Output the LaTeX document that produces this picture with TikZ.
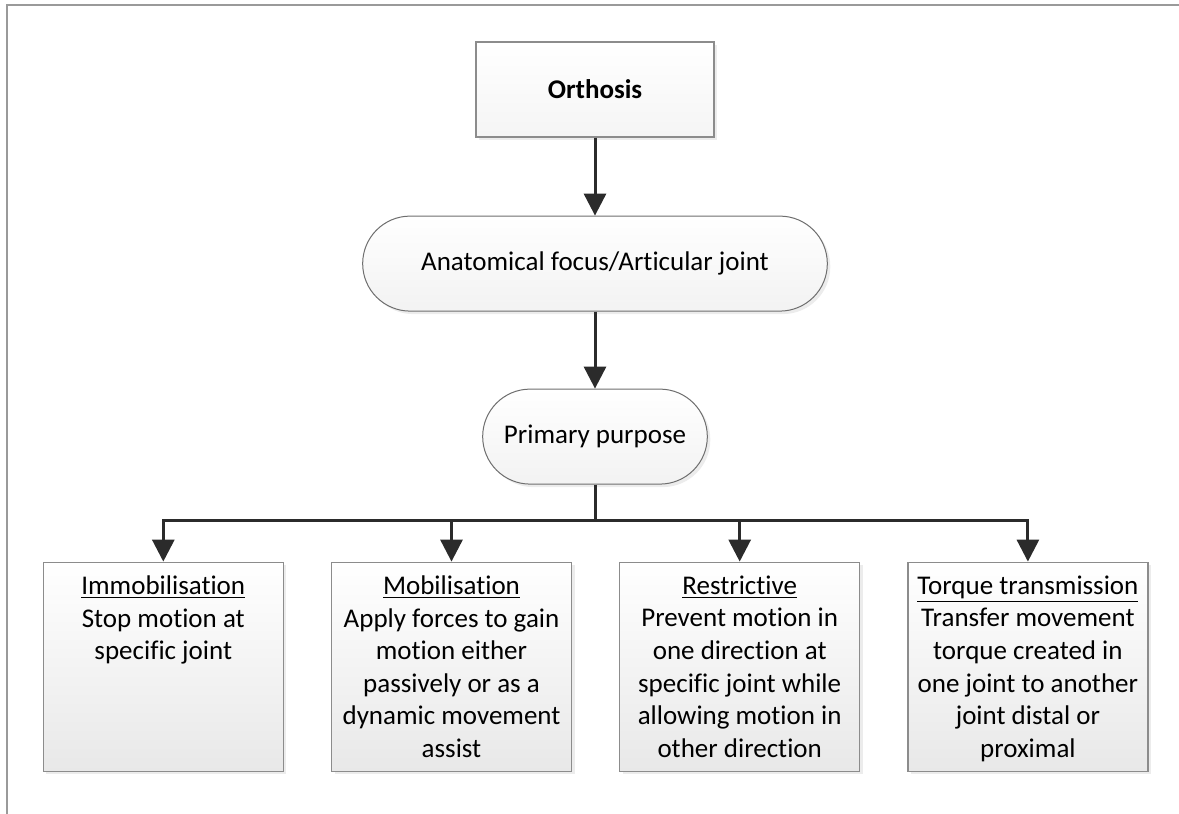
\documentclass[tikz,border=0pt]{standalone}
\usepackage{fontspec}
\setmainfont[Ligatures=NoCommon]{Carlito}
\usetikzlibrary{positioning,arrows.meta,shapes.misc,shadows,calc}
\definecolor{boxgray}{HTML}{8C8C8C}
\definecolor{pillgray}{HTML}{6E6E6E}
\definecolor{linegray}{HTML}{2B2B2B}
\definecolor{framegray}{HTML}{9A9A9A}

% text of one purpose box: underlined title, then the body
\newcommand{\purposetext}[2]{\parbox[t][91pt][t]{118pt}{\centering\underline{#1}\\#2}}

\begin{document}
\begin{tikzpicture}[
    x=0.5pt, y=-0.5pt,
    font=\fontsize{13.5}{16.3}\selectfont,
    softshadow/.style={drop shadow={opacity=0.15, shadow xshift=1.5pt, shadow yshift=-1.5pt}},
    topbox/.style={rectangle, draw=boxgray, line width=0.6pt, top color=white, bottom color=gray!8, minimum width=119pt, minimum height=47.5pt, softshadow},
    pill/.style={rounded rectangle, draw=pillgray, line width=0.5pt, top color=white, bottom color=gray!10, minimum height=47.5pt, softshadow},
    purpose/.style={rectangle, draw=boxgray, line width=0.6pt, top color=white, bottom color=gray!18, minimum width=120pt, minimum height=104.5pt, inner sep=0pt, softshadow},
    arrow/.style={-{Triangle[width=11pt,length=11pt]}, line width=1.5pt, draw=linegray},
    branch/.style={line width=1.5pt, draw=linegray}
]
\useasboundingbox (0,0) rectangle (1179,814);

% Frame
\draw[framegray, line width=1pt] (7,814) -- (7,5) -- (1179,5);

% Main chain
\node[topbox] (ortho) at (595,89.5) {\textbf{Orthosis}};
\node[pill, minimum width=239pt, below=39pt of ortho] (anat) {Anatomical focus/Articular joint};
\node[pill, minimum width=119pt, below=38.5pt of anat] (prim) {Primary purpose};

% Purpose boxes
\node[purpose, below=38.5pt of prim, xshift=-71.75pt] (mob) {\purposetext{Mobilisation}{Apply forces to gain\\motion either\\passively or as a\\dynamic movement\\assist}};
\node[purpose, left=23.5pt of mob] (imm) {\purposetext{Immobilisation}{Stop motion at\\specific joint}};
\node[purpose, right=23.5pt of mob] (res) {\purposetext{Restrictive}{Prevent motion in\\one direction at\\specific joint while\\allowing motion in\\other direction}};
\node[purpose, right=23.5pt of res] (torq) {\purposetext{Torque transmission}{Transfer movement\\torque created in\\one joint to another\\joint distal or\\proximal}};

% Connectors
\draw[arrow] (ortho.south) -- (anat.north);
\draw[arrow] (anat.south) -- (prim.north);
\coordinate[below=18pt of prim.south] (split);
\draw[branch] (prim.south) -- (split);
\draw[arrow] (split) -| (imm.north);
\draw[arrow] (split) -| (torq.north);
\foreach \n in {mob,res}
    \draw[arrow] (split -| \n.north) -- (\n.north);

\end{tikzpicture}
\end{document}
